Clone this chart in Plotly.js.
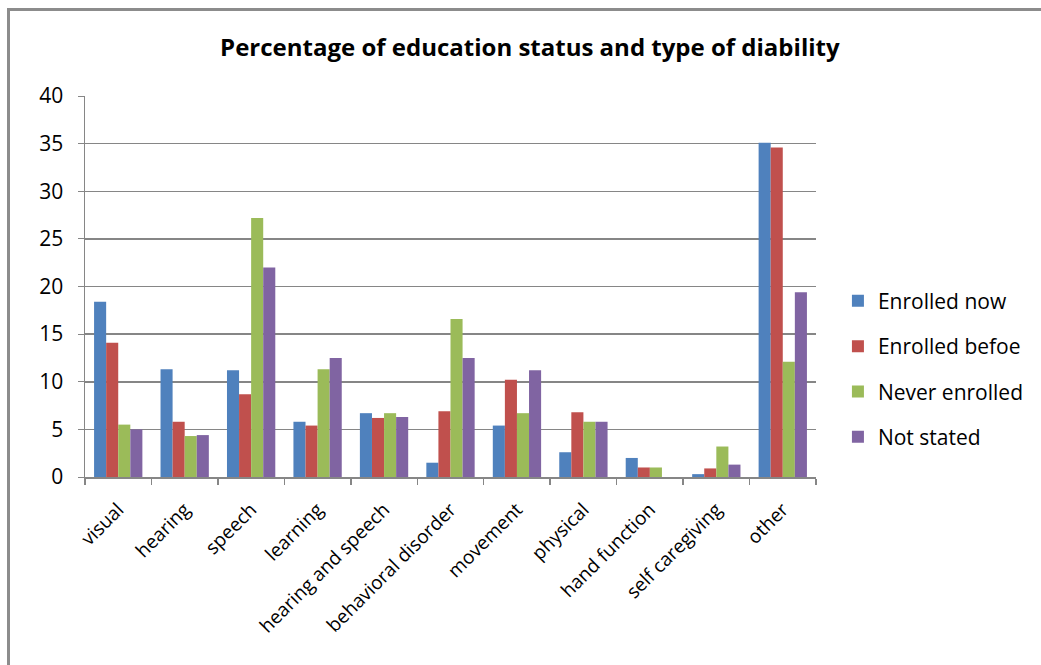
<!DOCTYPE html>
<html><head><meta charset="utf-8">
<script src="https://cdn.plot.ly/plotly-3.0.1.min.js"></script>
<style>
html,body{margin:0;padding:0;background:#fff;}
#chart{width:1041px;height:665px;}
#frame{position:absolute;left:7px;top:8px;width:1100px;height:700px;border-left:3px solid #8c8c8c;border-top:3px solid #8c8c8c;pointer-events:none;}
</style></head>
<body>
<div id="chart"></div>
<div id="frame"></div>
<script>
const categories = ["visual","hearing","speech","learning","hearing and speech","behavioral disorder","movement","physical","hand function","self caregiving","other"];
const enrolledNow    = [18.4, 11.3, 11.2, 5.8, 6.7, 1.5, 5.4, 2.6, 2.0, 0.3, 35.1];
const enrolledBefore = [14.1, 5.8, 8.7, 5.4, 6.2, 6.9, 10.2, 6.8, 1.0, 0.9, 34.6];
const neverEnrolled  = [5.5, 4.3, 27.2, 11.3, 6.7, 16.6, 6.7, 5.8, 1.0, 3.2, 12.1];
const notStated      = [5.0, 4.4, 22.0, 12.5, 6.3, 12.5, 11.2, 5.8, 0, 1.3, 19.4];
const seriesNames = ["Enrolled now","Enrolled befoe","Never enrolled","Not stated"];
const yTicks = [0,5,10,15,20,25,30,35,40];

const colors = ["#4f81bd","#c0504d","#9bbb59","#8064a2"];
const series = [enrolledNow, enrolledBefore, neverEnrolled, notStated];
const font = "Open Sans, Liberation Sans, sans-serif";
const traces = series.map((vals,i)=>({
  type:"bar", x:categories, y:vals, name:seriesNames[i],
  marker:{color:colors[i]}, legendgroup:"g"+i
}));
const layout = {
  width:1041, height:665,
  margin:{l:85, r:222, t:96, b:188},
  paper_bgcolor:"#fff", plot_bgcolor:"#fff",
  bargap:0.273, bargroupgap:0,
  title:{text:"<b>Percentage of education status and type of diability</b>", x:0.509, xanchor:"center", y:0.928, yanchor:"middle",
         font:{family:font, size:24, color:"#000"}},
  font:{family:font, color:"#000"},
  xaxis:{type:"category", tickangle:-45, tickfont:{family:font,size:19,color:"#000"},
         showline:true, linecolor:"#868686", linewidth:2, ticks:"outside", tickson:"boundaries",
         ticklen:6, tickcolor:"#868686", tickwidth:1.5, showgrid:false, automargin:false, ticklabelstandoff:12},
  yaxis:{range:[0,40], tickvals:yTicks, ticktext:yTicks.map(String), tickfont:{family:font,size:21,color:"#000"},
         showline:true, linecolor:"#868686", linewidth:1.5, ticks:"outside", ticklen:6, tickcolor:"#868686",
         showgrid:true, gridcolor:"#868686", gridwidth:1.5, zeroline:false, automargin:false, ticklabelstandoff:10},
  legend:{x:1.03, xanchor:"left", y:0.283, yanchor:"middle", font:{family:font,size:21,color:"#000"},
          tracegroupgap:15, itemwidth:30, bgcolor:"rgba(0,0,0,0)"},
  showlegend:true
};
Plotly.newPlot("chart", traces, layout, {staticPlot:true});
</script>
</body></html>
